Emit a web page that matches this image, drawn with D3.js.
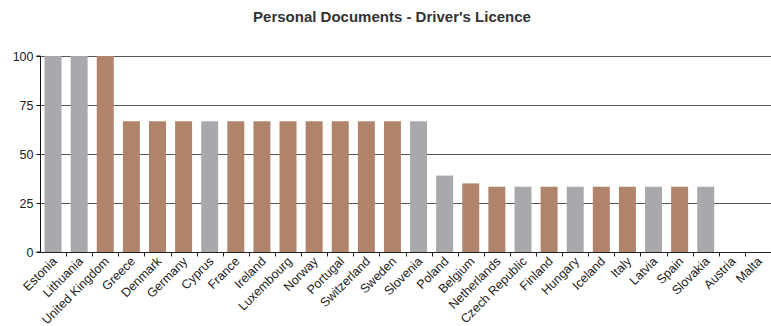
<!DOCTYPE html>
<html>
<head>
<meta charset="utf-8">
<script src="https://cdn.jsdelivr.net/npm/d3@7/dist/d3.min.js"></script>
<style>
  html, body { margin: 0; padding: 0; background: #fff; }
  svg { display: block; font-family: "Liberation Sans", Arial, Helvetica, sans-serif; }
</style>
</head>
<body>
<svg id="chart" width="771" height="326"></svg>
<script>
// Share of documents accepted, per country
const countries = ["Estonia", "Lithuania", "United Kingdom", "Greece", "Denmark", "Germany", "Cyprus",
  "France", "Ireland", "Luxembourg", "Norway", "Portugal", "Switzerland", "Sweden", "Slovenia",
  "Poland", "Belgium", "Netherlands", "Czech Republic", "Finland", "Hungary", "Iceland", "Italy",
  "Latvia", "Spain", "Slovakia", "Austria", "Malta"];
const values = [100, 100, 100, 66.7, 66.7, 66.7, 66.7, 66.7, 66.7, 66.7, 66.7, 66.7, 66.7, 66.7, 66.7,
  39, 35, 33.3, 33.3, 33.3, 33.3, 33.3, 33.3, 33.3, 33.3, 33.3, 0, 0];
const groups = ["B", "B", "A", "A", "A", "A", "B", "A", "A", "A", "A", "A", "A", "A", "B",
  "B", "A", "A", "B", "A", "B", "A", "A", "B", "A", "B", "B", "A"];
const yTicks = [0, 25, 50, 75, 100];
const title = "Personal Documents - Driver's Licence";

const svg = d3.select("#chart");
const W = 771, H = 326;
const m = { top: 56, right: 0, bottom: 74, left: 40 };

const x = d3.scaleBand().domain(countries).range([m.left, W - m.right]).paddingInner(0.35).paddingOuter(0.175);
const y = d3.scaleLinear().domain([0, 100]).range([H - m.bottom, m.top]);
const color = d3.scaleOrdinal().domain(["A", "B"]).range(["#b0846a", "#a8a9ad"]);

// title
svg.append("text")
  .attr("x", 392).attr("y", 22)
  .attr("text-anchor", "middle")
  .attr("font-size", 15).attr("font-weight", "bold").attr("fill", "#333")
  .text(title);

// horizontal gridlines
svg.append("g").selectAll("line").data(yTicks.filter(d => d > 0)).join("line")
  .attr("x1", m.left).attr("x2", W)
  .attr("y1", d => Math.round(y(d)) + 0.5).attr("y2", d => Math.round(y(d)) + 0.5)
  .attr("stroke", "#555").attr("stroke-width", 1.2);

// bars
svg.append("g").selectAll("rect").data(countries).join("rect")
  .attr("x", (d) => x(d))
  .attr("width", x.bandwidth())
  .attr("y", (d, i) => y(values[i]))
  .attr("height", (d, i) => y(0) - y(values[i]))
  .attr("fill", (d, i) => color(groups[i]));

// y axis
const yAxis = svg.append("g")
  .attr("transform", `translate(${m.left + 0.5},0)`)
  .call(d3.axisLeft(y).tickValues(yTicks).tickSize(4).tickPadding(3));
yAxis.select(".domain").attr("stroke", "#111").attr("d", `M-4,${y(100)}H0V${y(0)}H-4`);
yAxis.selectAll(".tick line").attr("stroke", "#111");
yAxis.selectAll(".tick text").attr("font-size", 12.5).attr("fill", "#222")
  .attr("font-family", "Liberation Sans, Arial, sans-serif");

// x axis: baseline and ticks on band boundaries
const base = Math.round(y(0)) + 0.5;
svg.append("line").attr("x1", m.left).attr("x2", W).attr("y1", base).attr("y2", base)
  .attr("stroke", "#222").attr("stroke-width", 1.2);
const step = x.step();
const bounds = countries.map((d, i) => x(d) - step * 0.175);
svg.append("g").selectAll("line").data(bounds.slice(1)).join("line")
  .attr("x1", d => Math.round(d) + 0.5).attr("x2", d => Math.round(d) + 0.5)
  .attr("y1", base).attr("y2", base + 4)
  .attr("stroke", "#222");

// category labels, rotated
svg.append("g").selectAll("text").data(countries).join("text")
  .attr("transform", d => `translate(${x(d) + x.bandwidth() / 2 + 2},${base + 7}) rotate(-45)`)
  .attr("text-anchor", "end")
  .attr("dy", "0.3em")
  .attr("font-size", 12.5).attr("fill", "#222")
  .text(d => d);
</script>
</body>
</html>
